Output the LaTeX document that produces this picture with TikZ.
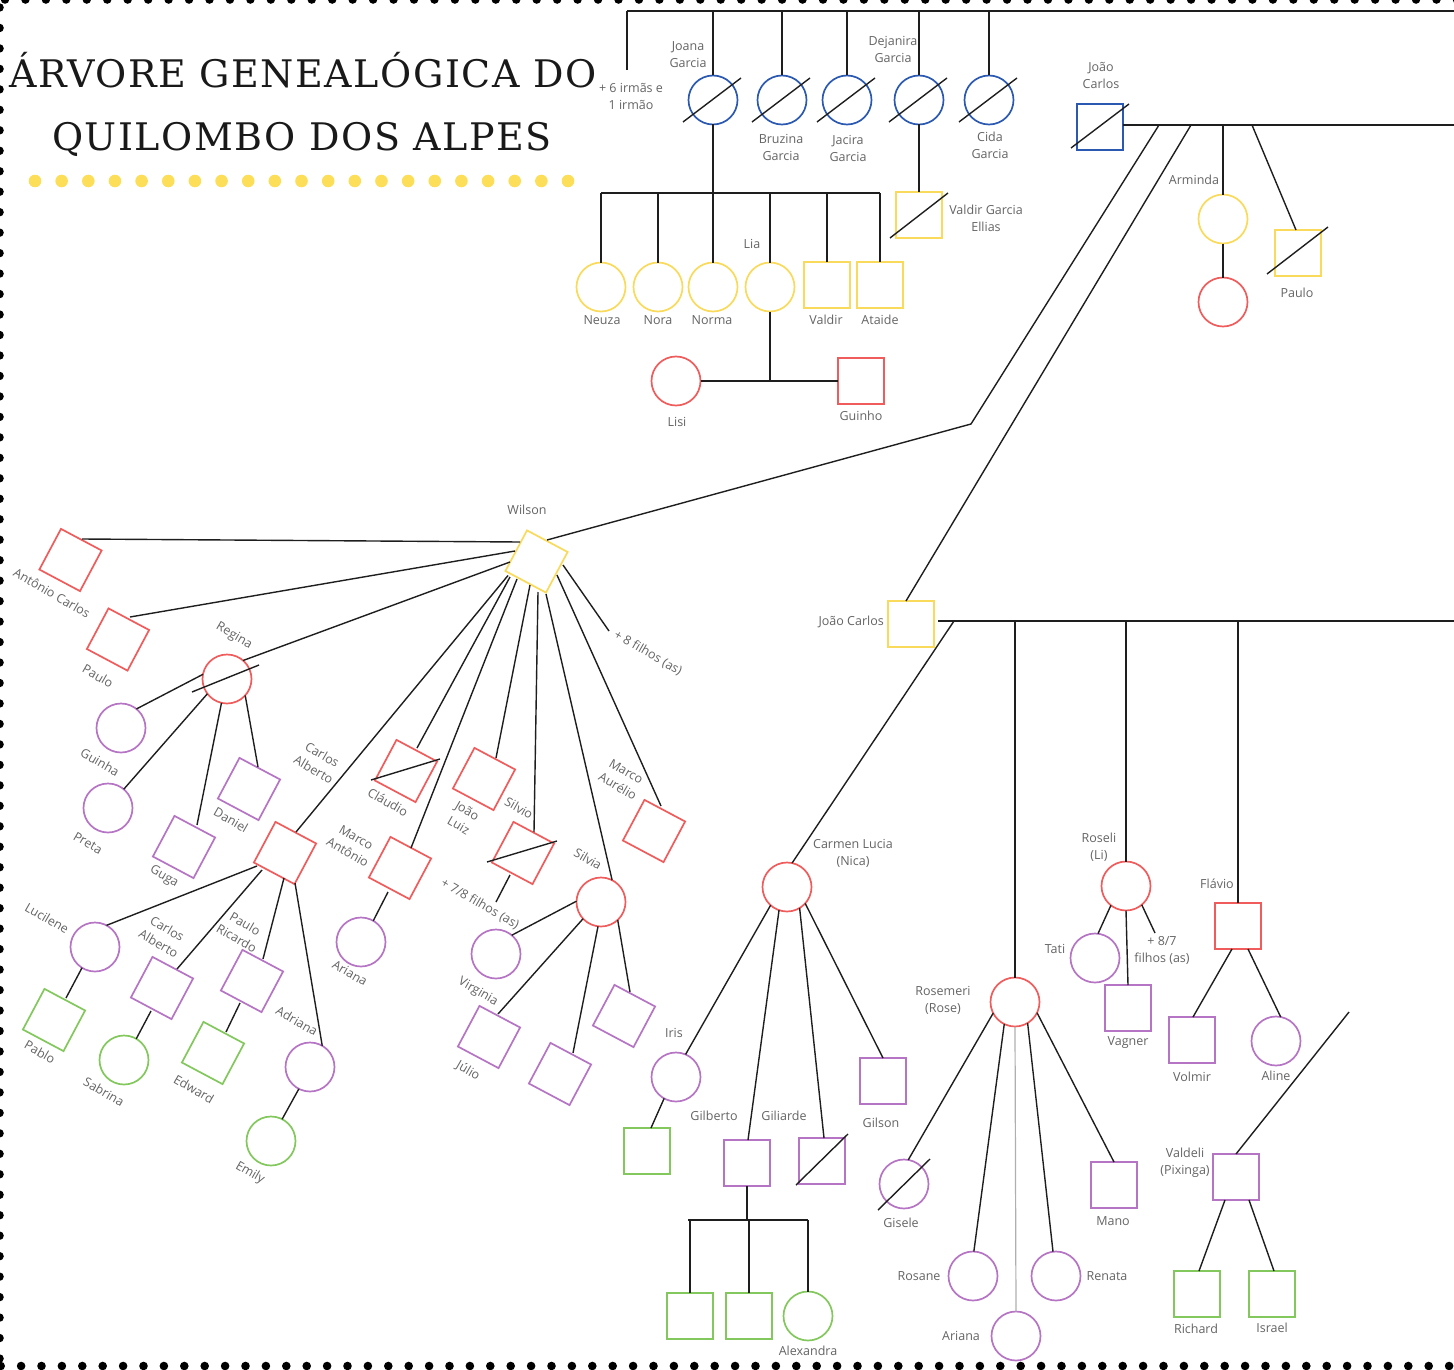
\documentclass[tikz,border=0pt]{standalone}
\usepackage{fontspec}
\setmainfont{Open Sans}
\newfontfamily\titlefont[LetterSpace=4]{DejaVu Serif}
\usetikzlibrary{calc}
\definecolor{cblue}{RGB}{43,89,178}
\definecolor{cyel}{RGB}{250,218,90}
\definecolor{cred}{RGB}{240,92,92}
\definecolor{cpur}{RGB}{182,116,196}
\definecolor{cgrn}{RGB}{130,200,92}
\definecolor{cdot}{RGB}{252,222,88}
\definecolor{ctext}{RGB}{100,100,100}
\definecolor{cline}{RGB}{30,30,30}
\definecolor{cthin}{RGB}{175,175,175}
\begin{document}
\begin{tikzpicture}[x=1pt,y=-1pt,
  ln/.style={draw=cline,line width=1.4pt},
  thin/.style={draw=cthin,line width=1.2pt},
  shp/.style={draw,line width=1.7pt,inner sep=0pt,outer sep=0pt},
  circ/.style={shp,circle,minimum size=49pt},
  sqr/.style={shp,rectangle,minimum size=46pt},
  tsq/.style={sqr,rotate=-28},
  lbl/.style={font=\fontsize{12.5}{17}\selectfont,text=ctext,align=center,inner sep=0pt},
  rl/.style={lbl,rotate=-30},
  ttl/.style={font=\titlefont\fontsize{38}{40}\selectfont,text=black!90,anchor=base,inner sep=0pt}
]
\useasboundingbox (0,0) rectangle (1454,1370);

% dotted frame
\foreach \i in {0,...,71} \fill[black] (5+20.45*\i,-0.5) circle (4.3);
\foreach \i in {0,...,71} \fill[black] (0.7+20.4*\i,1366) circle (4.3);
\foreach \i in {0,...,66} \fill[black] (-0.5,7.5+20.47*\i) circle (4.3);

% title
\node[ttl] (t1) at (303,88) {ÁRVORE GENEALÓGICA DO};
\node[ttl] (t2) at (302,150) {QUILOMBO DOS ALPES};
\foreach \i in {0,...,20} \fill[cdot] (35+26.65*\i,181) circle (6.3);

% ---------- Garcia sisters ----------
\node[circ,draw=cblue] (jo)  at (713,100) {};
\node[circ,draw=cblue] (bru) at (782,100) {};
\node[circ,draw=cblue] (jac) at (847,100) {};
\node[circ,draw=cblue] (dej) at (919,100) {};
\node[circ,draw=cblue] (cid) at (989,100) {};
\foreach \n in {jo,bru,jac,dej,cid}
  \draw[ln] ($(\n)+(-30,22)$) -- ($(\n)+(28,-22)$);
\coordinate (topL) at (627,11);
\coordinate (topR) at (1454,11);
\coordinate (sibs) at (627,70);
\draw[ln] (topL) -- (topR);
\draw[ln] (topL) -- (sibs);
\foreach \n in {jo,bru,jac,dej,cid} \draw[ln] (\n.north) -- (\n.north |- topL);

\node[lbl] (l-sibs) at (631,96) {+ 6 irmãs e\\1 irmão};
\node[lbl] (l-jo)  at (688,55)  {Joana\\Garcia};
\node[lbl] (l-bru) at (781,147) {Bruzina\\Garcia};
\node[lbl] (l-jac) at (848,148) {Jacira\\Garcia};
\node[lbl] (l-dej) at (893,49)  {Dejanira\\Garcia};
\node[lbl] (l-cid) at (990,145) {Cida\\Garcia};

% Joana's children
\node[circ,draw=cyel] (neu) at (601,287) {};
\node[circ,draw=cyel] (nor) at (658,287) {};
\node[circ,draw=cyel] (nrm) at (713,287) {};
\node[circ,draw=cyel] (lia) at (770,287) {};
\node[sqr,draw=cyel]  (vld) at (827,285) {};
\node[sqr,draw=cyel]  (ata) at (880,285) {};
\coordinate (barL) at (601,193);
\coordinate (barR) at (880,193);
\draw[ln] (barL) -- (barR);
\draw[ln] (jo.south) -- (jo.south |- barL);
\foreach \n in {neu,nor,nrm,lia,vld,ata} \draw[ln] (\n.north) -- (\n.north |- barL);
\node[lbl] (l-neu) at (602,320) {Neuza};
\node[lbl] (l-nor) at (658,320) {Nora};
\node[lbl] (l-nrm) at (712,320) {Norma};
\node[lbl] (l-lia) at (752,244) {Lia};
\node[lbl] (l-vld) at (826,320) {Valdir};
\node[lbl] (l-ata) at (880,320) {Ataide};

% Dejanira's son
\node[sqr,draw=cyel] (vge) at (919,215) {};
\draw[ln] ($(vge)+(-29,23)$) -- ($(vge)+(29,-22)$);
\draw[ln] (dej.south) -- (vge.north);
\node[lbl] (l-vge) at (986,218) {Valdir Garcia\\Ellias};

% Lia's children
\node[circ,draw=cred] (lisi) at (676,381) {};
\node[sqr,draw=cred]  (gui)  at (861,381) {};
\draw[ln] (lia.south) -- (lia.south |- lisi.east);
\draw[ln] (lisi) -- (gui);
\node[lbl] (l-lisi) at (677,422) {Lisi};
\node[lbl] (l-gui)  at (861,416) {Guinho};

% ---------- João Carlos (blue) ----------
\node[sqr,draw=cblue] (jcb) at (1100,127) {};
\draw[ln] ($(jcb)+(-29,21)$) -- ($(jcb)+(29,-23)$);
\node[lbl] (l-jcb) at (1101,75) {João\\Carlos};
\coordinate (jcR) at (1454,125);
\draw[ln] (jcb.east |- jcR) -- (jcR);

\node[circ,draw=cyel] (arm)  at (1223,219) {};
\node[circ,draw=cred] (armd) at (1223,302) {};
\draw[ln] (arm.north) -- (arm.north |- jcR);
\draw[ln] (arm.south) -- (armd.north);
\node[lbl] (l-arm) at (1194,180) {Arminda};

\node[sqr,draw=cyel] (pau) at (1298,253) {};
\draw[ln] ($(pau)+(-31,21)$) -- ($(pau)+(30,-26)$);
\coordinate (pauTop) at (1252,125);
\draw[ln] (pauTop) -- ($(pau)+(-2,-23)$);
\node[lbl] (l-pau) at (1297,293) {Paulo};

% ---------- Wilson ----------
\node[tsq,draw=cyel] (wil) at (536.5,561.5) {};
\node[lbl] (l-wil) at (527,510) {Wilson};
\coordinate (brA) at (1159,125);
\coordinate (kneeA) at (971,424);
\draw[ln] (brA) -- (kneeA) -- ($(wil)+(10.5,-21.5)$);

\node[tsq,draw=cred]  (ac)  at (70.5,560) {};
\node[tsq,draw=cred]  (pa)  at (118,639.5) {};
\node[circ,draw=cred] (reg) at (227,679) {};
\node[tsq,draw=cred]  (ca)  at (285,853) {};
\node[tsq,draw=cred]  (cla) at (406,771) {};
\node[tsq,draw=cred]  (man) at (400,868) {};
\node[tsq,draw=cred]  (jl)  at (484,779) {};
\node[tsq,draw=cred]  (sio) at (523,853) {};
\node[circ,draw=cred] (sia) at (601,902) {};
\node[tsq,draw=cred]  (mau) at (654,831) {};
\coordinate (more8) at (609,631);

\draw[ln] ($(reg)+(-35,13)$) -- ($(reg)+(32,-14)$);
\draw[ln] ($(cla)+(-35,9)$) -- ($(cla)+(34,-12)$);
\draw[ln] ($(sio)+(-36,9)$) -- ($(sio)+(34,-12)$);

\draw[ln] ($(wil)+(-16.5,-19.5)$) -- ($(ac)+(11.5,-21)$);
\draw[ln] ($(wil)+(-21.5,-10.5)$) -- ($(pa)+(12,-22.5)$);
\draw[ln] ($(wil)+(-26.5,0.5)$) -- (reg.49);
\draw[ln] ($(wil)+(-28.5,14)$) -- ($(ca)+(11,-21)$);
\draw[ln] ($(wil)+(-26.5,15.5)$) -- ($(cla)+(11,-23)$);
\draw[ln] ($(wil)+(-19.5,17.5)$) -- ($(man)+(11,-20)$);
\draw[ln] ($(wil)+(-6.5,23.5)$) -- ($(jl)+(12,-21)$);
\draw[ln] ($(wil)+(1.5,30.5)$) -- ($(sio)+(11,-21)$);
\draw[ln] ($(wil)+(9.5,32.5)$) -- (sia.63);
\draw[ln] ($(wil)+(20.5,13.5)$) -- ($(mau)+(7,-25)$);
\draw[ln] ($(wil)+(26.5,3.5)$) -- (more8);

\node[rl] (l-ac)  at (52,593)  {Antônio Carlos};
\node[rl] (l-pa)  at (98,676)  {Paulo};
\node[rl] (l-reg) at (234,636) {Regina};
\node[rl] (l-ca)  at (318,762) {Carlos\\Alberto};
\node[rl] (l-cla) at (388,802) {Cláudio};
\node[rl] (l-man) at (352,845) {Marco\\Antônio};
\node[rl] (l-jl)  at (463,818) {João\\Luiz};
\node[rl] (l-sio) at (519,808) {Silvio};
\node[rl] (l-sia) at (588,859) {Silvia};
\node[rl] (l-mau) at (622,779) {Marco\\Aurélio};
\node[rl] (l-m8)  at (648,653) {+ 8 filhos (as)};

% Regina's children
\node[circ,draw=cpur] (gna) at (121,728) {};
\node[circ,draw=cpur] (pre) at (108,808) {};
\node[tsq,draw=cpur]  (gug) at (184,847) {};
\node[tsq,draw=cpur]  (dan) at (249,789) {};
\draw[ln] (reg.169) -- (gna.51);
\draw[ln] (reg.217) -- (pre.50);
\draw[ln] (reg.257) -- ($(gug)+(13,-22)$);
\draw[ln] (reg.318) -- ($(dan)+(9,-22)$);
\node[rl] (l-gna) at (100,762) {Guinha};
\node[rl] (l-pre) at (88,843)  {Preta};
\node[rl] (l-gug) at (164,877) {Guga};
\node[rl] (l-dan) at (231,820) {Daniel};

% Carlos Alberto's children
\node[circ,draw=cpur] (luc) at (95,947) {};
\node[tsq,draw=cpur]  (cap) at (162,988) {};
\node[tsq,draw=cpur]  (pr)  at (252,981) {};
\node[circ,draw=cpur] (adr) at (310,1067) {};
\draw[ln] ($(ca)+(-28,13)$) -- (luc.62);
\draw[ln] ($(ca)+(-23,17)$) -- ($(cap)+(15,-19)$);
\draw[ln] ($(ca)+(-1,25)$) -- ($(pr)+(11,-22)$);
\draw[ln] ($(ca)+(10,30)$) -- (adr.60);
\node[rl] (l-luc) at (47,918)   {Lucilene};
\node[rl] (l-cap) at (163,936)  {Carlos\\Alberto};
\node[rl] (l-pr)  at (241,931)  {Paulo\\Ricardo};
\node[rl] (l-adr) at (297,1021) {Adriana};

\node[tsq,draw=cgrn]  (pab) at (54,1020) {};
\node[circ,draw=cgrn] (sab) at (124,1060) {};
\node[tsq,draw=cgrn]  (edw) at (213,1053) {};
\node[circ,draw=cgrn] (emi) at (271,1141) {};
\draw[ln] (luc.238) -- ($(pab)+(12,-22)$);
\draw[ln] ($(cap)+(-11,23)$) -- (sab.60);
\draw[ln] ($(pr)+(-12,22)$) -- ($(edw)+(13,-21)$);
\draw[ln] (adr.243) -- (emi.63);
\node[rl] (l-pab) at (40,1052)  {Pablo};
\node[rl] (l-sab) at (104,1092) {Sabrina};
\node[rl] (l-edw) at (194,1089) {Edward};
\node[rl] (l-emi) at (250,1173) {Emily};

% Marco Antônio's daughter
\node[circ,draw=cpur] (ari) at (361,942) {};
\draw[ln] ($(man)+(-12,24)$) -- (ari.60);
\node[rl] (l-ari) at (350,973) {Ariana};

% Silvio's children
\coordinate (more78) at (496,902);
\draw[ln] ($(sio)+(-13,22)$) -- (more78);
\node[rl] (l-m78) at (480,904) {+ 7/8 filhos (as)};

% Silvia's children
\node[circ,draw=cpur] (vir) at (496,954) {};
\node[tsq,draw=cpur]  (jul) at (489,1037) {};
\node[tsq,draw=cpur]  (sq1) at (560,1074) {};
\node[tsq,draw=cpur]  (sq2) at (624,1016) {};
\draw[ln] (sia.178) -- (vir.50);
\draw[ln] (sia.223) -- ($(jul)+(9,-23)$);
\draw[ln] (sia.263) -- ($(sq1)+(13,-21)$);
\draw[ln] (sia.313) -- ($(sq2)+(6,-24)$);
\node[rl] (l-vir) at (478,992)  {Virginia};
\node[rl] (l-jul) at (468,1071) {Júlio};

% ---------- João Carlos (yellow) ----------
\node[sqr,draw=cyel] (jcy) at (911,624) {};
\node[lbl,anchor=east] (l-jcy) at (884,622) {João Carlos};
\coordinate (brB) at (1191,125);
\draw[ln] (brB) -- ($(jcy)+(-5,-23)$);
\coordinate (jcyBar) at (938,621);
\coordinate (jcyEnd) at (1454,621);
\draw[ln] (jcyBar) -- (jcyEnd);
\coordinate (carTop) at (954,621);

% Carmen Lucia
\node[circ,draw=cred] (car) at (787,887) {};
\draw[ln] (carTop) -- (car.78);
\node[lbl] (l-car) at (853,853) {Carmen Lucia\\(Nica)};

\node[circ,draw=cpur] (iri) at (676,1077) {};
\node[sqr,draw=cpur]  (gib) at (747,1163) {};
\node[sqr,draw=cpur]  (gil) at (822,1161) {};
\node[sqr,draw=cpur]  (gis) at (883,1081) {};
\draw[ln] ($(gil)+(-26,24)$) -- ($(gil)+(26,-27)$);
\draw[ln] (car.228) -- (iri.67);
\draw[ln] (car.251) -- ($(gib)+(1,-23)$);
\draw[ln] (car.301) -- ($(gil)+(2,-23)$);
\draw[ln] (car.318) -- (gis.north);
\node[lbl] (l-iri) at (674,1033) {Iris};
\node[lbl] (l-gib) at (714,1116) {Gilberto};
\node[lbl] (l-gil) at (784,1116) {Giliarde};
\node[lbl] (l-gis) at (881,1123) {Gilson};

\node[sqr,draw=cgrn] (irs) at (647,1151) {};
\draw[ln] (iri.241) -- ($(irs)+(4,-23)$);

\node[sqr,draw=cgrn]  (g1)  at (690,1316) {};
\node[sqr,draw=cgrn]  (g2)  at (749,1316) {};
\node[circ,draw=cgrn] (alx) at (808,1316) {};
\coordinate (gbL) at (688,1220);
\coordinate (gbR) at (808,1220);
\draw[ln] (gbL) -- (gbR);
\draw[ln] (gib.south) -- (gib.south |- gbL);
\foreach \n in {g1,g2,alx} \draw[ln] (\n.north) -- (\n.north |- gbL);
\node[lbl] (l-alx) at (808,1351) {Alexandra};

% Rosemeri
\node[circ,draw=cred] (rsm) at (1015,1002) {};
\draw[ln] (rsm.north) -- (rsm.north |- jcyBar);
\node[lbl] (l-rsm) at (943,1000) {Rosemeri\\(Rose)};

\node[circ,draw=cpur] (gse) at (904,1184) {};
\draw[ln] ($(gse)+(-26,26)$) -- ($(gse)+(26,-25)$);
\node[circ,draw=cpur] (ros) at (973,1276) {};
\node[circ,draw=cpur] (ar2) at (1016,1336) {};
\node[circ,draw=cpur] (ren) at (1056,1276) {};
\node[sqr,draw=cpur]  (man2) at (1114,1185) {};
\draw[ln] (rsm.207) -- (gse.80);
\draw[ln] (rsm.244) -- (ros.88);
\draw[thin] (rsm.south) -- (ar2.north);
\draw[ln] (rsm.301) -- (ren.97);
\draw[ln] (rsm.334) -- (man2.north);
\node[lbl] (l-gse) at (901,1223) {Gisele};
\node[lbl] (l-ros) at (919,1276) {Rosane};
\node[lbl] (l-ar2) at (961,1336) {Ariana};
\node[lbl] (l-ren) at (1107,1276) {Renata};
\node[lbl] (l-man2) at (1113,1221) {Mano};

% Roseli
\node[circ,draw=cred] (rsl) at (1126,886) {};
\draw[ln] (rsl.north) -- (rsl.north |- jcyBar);
\node[lbl] (l-rsl) at (1099,847) {Roseli\\(Li)};
\node[circ,draw=cpur] (tat) at (1095,958) {};
\node[sqr,draw=cpur]  (vag) at (1128,1008) {};
\coordinate (more87) at (1155,933);
\draw[ln] (rsl.232) -- (tat.83);
\draw[ln] (rsl.south) -- (vag.north);
\draw[ln] (rsl.310) -- (more87);
\node[lbl] (l-tat) at (1055,949) {Tati};
\node[lbl] (l-vag) at (1128,1043) {Vagner};
\node[lbl] (l-m87) at (1162,950) {+ 8/7\\filhos (as)};

% Flávio
\node[sqr,draw=cred] (fla) at (1238,926) {};
\draw[ln] (fla.north) -- (fla.north |- jcyBar);
\node[lbl] (l-fla) at (1217,884) {Flávio};
\node[sqr,draw=cpur]  (vol) at (1192,1040) {};
\node[circ,draw=cpur] (ali) at (1276,1041) {};
\draw[ln] ($(fla)+(-6,23)$) -- ($(vol)+(1,-23)$);
\draw[ln] ($(fla)+(10,23)$) -- (ali.79);
\node[lbl] (l-vol) at (1192,1077) {Volmir};
\node[lbl] (l-ali) at (1276,1076) {Aline};

% Valdeli
\node[sqr,draw=cpur] (vdl) at (1236,1177) {};
\coordinate (vdlTop) at (1349,1012);
\draw[ln] (vdlTop) -- (vdl.north);
\node[lbl] (l-vdl) at (1185,1163) {Valdeli\\(Pixinga)};
\node[sqr,draw=cgrn] (ric) at (1197,1294) {};
\node[sqr,draw=cgrn] (isr) at (1272,1294) {};
\draw[ln] ($(vdl)+(-11,23)$) -- ($(ric)+(2,-23)$);
\draw[ln] ($(vdl)+(13,23)$) -- ($(isr)+(2,-23)$);
\node[lbl] (l-ric) at (1196,1329) {Richard};
\node[lbl] (l-isr) at (1272,1328) {Israel};
\end{tikzpicture}
\end{document}
